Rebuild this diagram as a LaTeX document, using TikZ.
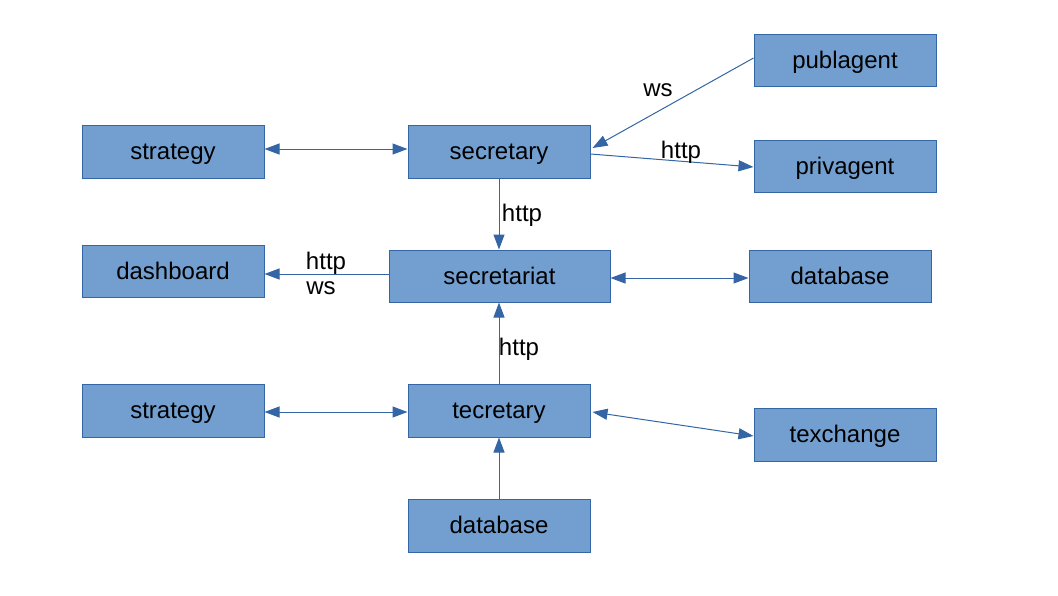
\documentclass[tikz,border=0pt]{standalone}
\usepackage{fontspec}
\setmainfont{Liberation Sans}
\usetikzlibrary{arrows.meta}
\definecolor{boxfill}{HTML}{729FCF}
\definecolor{boxline}{HTML}{3465A4}
\begin{document}
\begin{tikzpicture}[x=1pt,y=-1pt,
  box/.style={draw=boxline,fill=boxfill,line width=1pt,minimum width=182pt,minimum height=53pt,inner sep=0pt,text height=20.5pt,text depth=4pt,font=\fontsize{24}{29}\selectfont},
  lbl/.style={inner sep=0pt,text height=20.5pt,text depth=4pt,font=\fontsize{24}{29}\selectfont},
  conn/.style={draw=boxline,line width=1pt,-{Triangle[length=15pt,width=11pt]}},
  bconn/.style={draw=boxline,line width=1pt,{Triangle[length=15pt,width=11pt]}-{Triangle[length=15pt,width=11pt]}}]
\useasboundingbox (0,0) rectangle (1058,595);
\node[box] (strat1) at (173,151.5) {strategy};
\node[box] (secretary) at (499,151.5) {secretary};
\node[box,minimum height=52pt] (publagent) at (845,60) {publagent};
\node[box,minimum height=52pt] (privagent) at (845,166) {privagent};
\node[box,minimum height=52pt] (dashboard) at (173,271) {dashboard};
\node[box,minimum height=52pt,minimum width=221pt] (secretariat) at (499.5,276) {secretariat};
\node[box,minimum height=52pt] (db1) at (840,276) {database};
\node[box] (strat2) at (173,410.5) {strategy};
\node[box] (tecretary) at (499,410.5) {tecretary};
\node[box] (texchange) at (845,434.5) {texchange};
\node[box] (db2) at (499,525.5) {database};

\draw[bconn] ([yshift=2.5pt]strat1.east) -- ([yshift=2.5pt]secretary.west);
\draw[conn] ([yshift=2pt]publagent.west) -- ([xshift=2pt,yshift=3.5pt]secretary.east);
\draw[conn] ([yshift=-2.5pt]secretary.east) -- ([yshift=-1pt]privagent.west);
\draw[conn] (secretary.south) -- (secretary.south |- secretariat.north);
\draw[conn] ([yshift=2pt]secretariat.west) -- ([yshift=-3pt]dashboard.east);
\draw[bconn] ([yshift=-2pt]secretariat.east) -- ([yshift=-2pt]db1.west);
\draw[conn] (tecretary.north) -- (tecretary.north |- secretariat.south);
\draw[bconn] ([yshift=-1.5pt]strat2.east) -- ([yshift=-1.5pt]tecretary.west);
\draw[bconn] ([xshift=2pt,yshift=-1.5pt]tecretary.east) -- ([yshift=-1.5pt]texchange.west);
\draw[conn] (db2.north) -- (tecretary.south);

\node[lbl] (lws1) at (658,88) {ws};
\node[lbl] (lhttp1) at (681,150) {http};
\node[lbl] (lhttp2) at (522,213) {http};
\node[lbl] (lhttp3) at (326,261) {http};
\node[lbl] (lws2) at (321,286) {ws};
\node[lbl] (lhttp4) at (519,347) {http};
\end{tikzpicture}
\end{document}
